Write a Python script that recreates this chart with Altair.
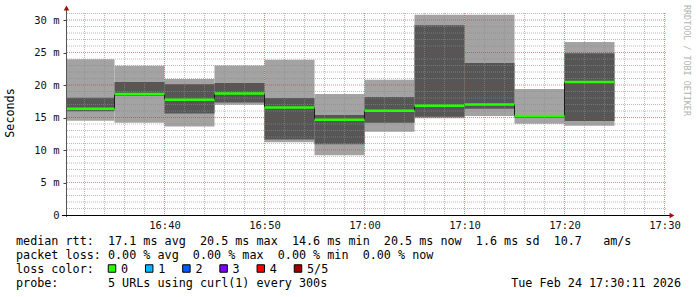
import altair as alt
import pandas as pd

# ---- data ----
bin_start = ["16:30", "16:35", "16:40", "16:45", "16:50", "16:55",
             "17:00", "17:05", "17:10", "17:15", "17:20"]
ping_lo = [14.50, 14.18, 13.60, 16.97, 11.20, 9.20, 12.80, 14.90, 15.25, 14.03, 13.75]
ping_q1 = [15.95, 18.35, 15.63, 17.30, 11.60, 10.90, 14.20, 15.10, 16.35, 14.97, 14.47]
median = [16.36, 18.60, 17.72, 18.70, 16.55, 14.65, 16.05, 16.80, 17.00, 15.25, 20.46]
ping_q3 = [18.03, 20.47, 20.12, 20.30, 18.00, 15.40, 18.15, 29.20, 23.40, 15.35, 24.90]
ping_hi = [23.95, 22.97, 20.93, 23.00, 23.90, 18.60, 20.80, 30.80, 30.80, 19.40, 26.60]

time_ticks = ["16:40", "16:50", "17:00", "17:10", "17:20", "17:30"]
y_ticks = [0, 5, 10, 15, 20, 25, 30]

legend_rows = [
    "median rtt:  17.1 ms avg  20.5 ms max  14.6 ms min  20.5 ms now  1.6 ms sd  10.7   am/s",
    "packet loss: 0.00 % avg  0.00 % max  0.00 % min  0.00 % now",
    "loss color:",
    "probe:       5 URLs using curl(1) every 300s",
]
loss_labels = ["0", "1", "2", "3", "4", "5/5"]
loss_colors = ["#26ff00", "#00b8ff", "#0059ff", "#7e00ff", "#ff0000", "#a00000"]
stamp = "Tue Feb 24 17:30:11 2026"
watermark = "RRDTOOL / TOBI OETIKER"


def tm(s):
    h, m = s.split(":")
    return (int(h) - 16) * 60 + int(m)


STEP = 5
t0 = [tm(s) for s in bin_start]
df = pd.DataFrame({
    "t0": t0, "t1": [t + STEP for t in t0],
    "lo": ping_lo, "q1": ping_q1, "med": median, "q3": ping_q3, "hi": ping_hi,
})
step_df = pd.DataFrame({"t": t0 + [t0[-1] + STEP], "med": median + [median[-1]]})

major_x = [tm(s) for s in time_ticks]
minor_x = [m for m in range(32, 91, 2) if m % 10 != 0]
minor_y = [v for v in range(1, 32) if v % 5 != 0]

W, H = 600, 202
XS = alt.Scale(domain=[30.15, 90.15], nice=False, zero=False)
YS = alt.Scale(domain=[0, 31.08], nice=False, zero=True)
MONO = "DejaVu Sans Mono"
one = pd.DataFrame({"a": [0]})

x_axis = alt.Axis(values=major_x, title=None, grid=False, domain=False, ticks=False,
                  labelExpr="(16 + floor(datum.value/60)) + ':' + format(datum.value % 60, '02d')",
                  labelFont=MONO, labelFontSize=10.5, labelColor="#111", labelPadding=5)
y_axis = alt.Axis(values=y_ticks, title=None, grid=False, domain=False, tickSize=3,
                  tickColor="#444",
                  labelExpr="datum.value == 0 ? '0' : datum.value + ' m'",
                  labelFont=MONO, labelFontSize=10.5, labelColor="#111", labelPadding=4)

light = alt.Chart(df).mark_rect(color="#a3a3a3", clip=True).encode(
    x=alt.X("t0:Q", scale=XS, axis=x_axis), x2="t1:Q",
    y=alt.Y("lo:Q", scale=YS, axis=y_axis), y2="hi:Q")
dark = alt.Chart(df).mark_rect(color="#565656", clip=True).encode(
    x=alt.X("t0:Q", scale=XS, axis=None), x2="t1:Q",
    y=alt.Y("q1:Q", scale=YS, axis=None), y2="q3:Q")

MINOR = dict(color="#8c8c8c", strokeOpacity=0.6, strokeDash=[1, 1], strokeWidth=1)
MAJOR = dict(color="#c03030", strokeOpacity=0.55, strokeDash=[1, 1], strokeWidth=1)
grid_minor_v = alt.Chart(pd.DataFrame({"t": minor_x})).mark_rule(**MINOR).encode(
    x=alt.X("t:Q", scale=XS, axis=None))
grid_minor_h = alt.Chart(pd.DataFrame({"v": minor_y})).mark_rule(**MINOR).encode(
    y=alt.Y("v:Q", scale=YS, axis=None))
grid_major_v = alt.Chart(pd.DataFrame({"t": major_x})).mark_rule(**MAJOR).encode(
    x=alt.X("t:Q", scale=XS, axis=None))
grid_major_h = alt.Chart(pd.DataFrame({"v": y_ticks[1:]})).mark_rule(**MAJOR).encode(
    y=alt.Y("v:Q", scale=YS, axis=None))

step_line = alt.Chart(step_df).mark_line(interpolate="step-after", color="#1a1a1a",
                                         strokeWidth=1, clip=True).encode(
    x=alt.X("t:Q", scale=XS, axis=None), y=alt.Y("med:Q", scale=YS, axis=None))
green = alt.Chart(df).mark_rule(color=loss_colors[0], strokeWidth=2.5, clip=True).encode(
    x=alt.X("t0:Q", scale=XS, axis=None), x2="t1:Q",
    y=alt.Y("med:Q", scale=YS, axis=None))

y_line = alt.Chart(one).mark_rule(color="#555555", strokeWidth=1).encode(
    x=alt.value(0.5), y=alt.value(-3), y2=alt.value(H + 2))
x_line = alt.Chart(one).mark_rule(color="#000000", strokeWidth=1).encode(
    x=alt.value(-4), x2=alt.value(W + 4), y=alt.value(H + 0.5))
arrow_up = alt.Chart(one).mark_point(shape="triangle-up", filled=True, color="#a01010",
                                     size=32, opacity=1).encode(
    x=alt.value(0.5), y=alt.value(-5))
arrow_right = alt.Chart(one).mark_point(shape="triangle-right", filled=True, color="#a01010",
                                        size=32, opacity=1).encode(
    x=alt.value(W + 6), y=alt.value(H + 0.5))

L0 = -50  # x = 16 px in the page
ROW_Y = [228, 242, 256, 270]
texts = []
for row, yy in zip(legend_rows, ROW_Y):
    texts.append(alt.Chart(one).mark_text(
        text=row.replace(" ", "\u00a0"), align="left", baseline="middle",
        font=MONO, fontSize=11.75, color="#000").encode(
        x=alt.value(L0), y=alt.value(yy)))

loss_df = pd.DataFrame({"lab": loss_labels, "col": loss_colors, "i": range(len(loss_labels))})
loss_sq = alt.Chart(loss_df).mark_square(size=56, strokeWidth=1, stroke="#000",
                                         opacity=1).encode(
    x=alt.X("i:Q", scale=alt.Scale(domain=[0, 1], range=[46, 46 + 37.2]), axis=None),
    y=alt.value(ROW_Y[2] - 0.5),
    fill=alt.Fill("col:N", scale=None))
loss_tx = alt.Chart(loss_df).mark_text(align="left", baseline="middle", font=MONO,
                                       fontSize=11.75, color="#000").encode(
    x=alt.X("i:Q", scale=alt.Scale(domain=[0, 1], range=[55, 55 + 37.2]), axis=None),
    y=alt.value(ROW_Y[2]),
    text="lab:N")

stamp_t = alt.Chart(one).mark_text(text=stamp, align="right", baseline="middle",
                                   font=MONO, fontSize=11.75, color="#000").encode(
    x=alt.value(615), y=alt.value(ROW_Y[3]))
ylabel = alt.Chart(one).mark_text(text="Seconds", angle=270, align="center",
                                  baseline="middle", font=MONO, fontSize=11.75,
                                  color="#000").encode(
    x=alt.value(-56), y=alt.value(100))
wm = alt.Chart(one).mark_text(text=watermark, angle=90, align="left", baseline="middle",
                              font=MONO, fontSize=8.4, color="#b4b4b4").encode(
    x=alt.value(621), y=alt.value(-8))

chart = alt.layer(
    light, dark, grid_minor_v, grid_minor_h, grid_major_v, grid_major_h,
    step_line, green, y_line, x_line, arrow_up, arrow_right,
    *texts, loss_sq, loss_tx, stamp_t, ylabel, wm,
).resolve_scale(x="independent", y="independent").properties(
    width=W, height=H,
    autosize=alt.AutoSizeParams(type="none"),
    padding={"left": 66, "top": 13, "right": 31, "bottom": 82},
    background="#ffffff",
).configure_view(strokeWidth=0)

chart.save("out.html", embed_options={"renderer": "svg", "actions": False})
